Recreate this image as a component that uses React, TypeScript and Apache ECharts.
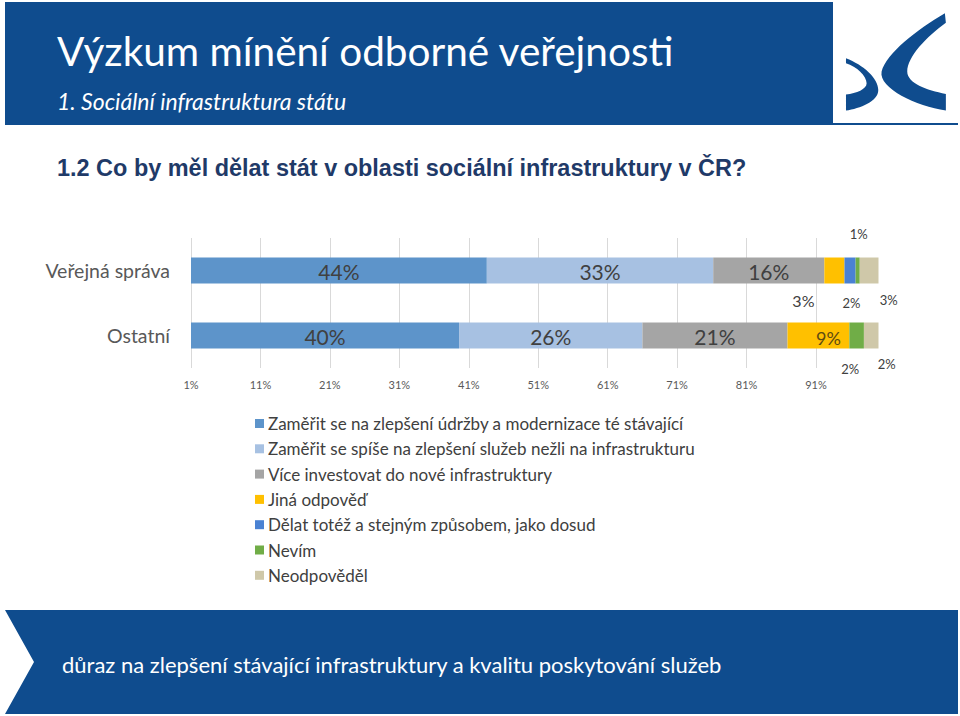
import React, { useEffect, useRef } from 'react';
import * as echarts from 'echarts';

// ---- data ----
const categories = ['Veřejná správa', 'Ostatní'];
const seriesNames = [
  'Zaměřit se na zlepšení údržby a modernizace té stávající',
  'Zaměřit se spíše na zlepšení služeb nežli na infrastrukturu',
  'Více investovat do nové infrastruktury',
  'Jiná odpověď',
  'Dělat totéž a stejným způsobem, jako dosud',
  'Nevím',
  'Neodpověděl',
];
const udrzba = [43.6, 39.6];
const sluzby = [32.6, 26.4];
const investice = [16.0, 20.9];
const jina = [2.9, 8.9];
const totez = [1.6, 0];
const nevim = [0.6, 2.1];
const neodpovedel = [2.7, 2.1];
const xTickLabels = ['1%', '11%', '21%', '31%', '41%', '51%', '61%', '71%', '81%', '91%'];
const axisMin = 1;
const axisMax = 100;
const tickStep = 10;

const titleText = 'Výzkum mínění odborné veřejnosti';
const subtitleText = '1. Sociální infrastruktura státu';
const questionText = '1.2 Co by měl dělat stát v oblasti sociální infrastruktury v ČR?';
const footerText = 'důraz na zlepšení stávající infrastruktury a kvalitu poskytování služeb';

// ---- styles ----
const colors = ['#5d94ca', '#a7c1e2', '#a5a5a5', '#ffc000', '#4a82d3', '#70ad47', '#cfc8a9'];
const brandBlue = '#0f4c8e';
const chartFont = 'Lato';

// label placement for each [series][category]: offset from segment centre
type LabelCfg = { dx: number; dy: number; size: number; color?: string };
const big: LabelCfg = { dx: 0, dy: 1, size: 21 };
const labelCfg: LabelCfg[][] = [
  [big, big],
  [big, big],
  [big, big],
  [{ dx: -31, dy: 30, size: 16 }, { dx: 10, dy: 2, size: 18, color: '#5e4b12' }],
  [{ dx: 1.5, dy: 32, size: 13 }, { dx: 0, dy: 0, size: 13 }],
  [{ dx: 1, dy: -37, size: 13 }, { dx: -6.5, dy: 33, size: 13 }],
  [{ dx: 19.5, dy: 29, size: 13 }, { dx: 15.5, dy: 28, size: 13 }],
];

const logoBig =
  'M 375 40 C 290 90 200 160 185 215 C 175 265 290 320 378 332 L 378 282 C 320 272 262 250 262 215 C 262 170 320 110 378 68 Z';
const logoSmall =
  'M 78 175 C 130 195 175 235 175 270 C 175 305 120 325 78 332 L 78 284 C 110 280 140 268 140 250 C 140 228 110 200 78 190 Z';

echarts.graphic.registerShape('logoBig', echarts.graphic.extendPath(logoBig, {}));
echarts.graphic.registerShape('logoSmall', echarts.graphic.extendPath(logoSmall, {}));

export default function App() {
  const ref = useRef<HTMLDivElement>(null);

  useEffect(() => {
    if (!ref.current) return;
    const chart = echarts.init(ref.current, undefined, { renderer: 'svg' });
    const allValues = [udrzba, sluzby, investice, jina, totez, nevim, neodpovedel];

    const series = allValues.map((vals, si) => ({
      name: seriesNames[si],
      type: 'bar',
      stack: 'total',
      barWidth: 26,
      clip: true,
      itemStyle: { color: colors[si] },
      emphasis: { disabled: true },
      data: vals.map((v, ci) => {
        const c = labelCfg[si][ci];
        return {
          value: v,
          label: {
            show: v > 0,
            position: 'inside',
            offset: [c.dx, c.dy],
            fontSize: c.size,
            fontFamily: chartFont,
            color: c.color || '#404040',
            formatter: (p: any) => Math.round(p.value) + '%',
          },
        };
      }),
    }));

    chart.setOption({
      animation: false,
      textStyle: { fontFamily: chartFont },
      grid: { left: 191, top: 238, width: 687.5, height: 130 },
      xAxis: {
        type: 'value',
        min: axisMin,
        max: axisMax,
        interval: tickStep,
        axisLine: { show: false },
        axisTick: { show: false },
        splitLine: { show: true, showMaxLine: false, lineStyle: { color: '#d9d9d9', width: 1 } },
        axisLabel: {
          showMaxLabel: false,
          fontSize: 11,
          color: '#595959',
          margin: 11,
          formatter: (v: number) => {
            const i = Math.round((v - axisMin) / tickStep);
            return v < axisMax ? xTickLabels[i] || '' : '';
          },
        },
      },
      yAxis: {
        type: 'category',
        data: categories,
        inverse: true,
        axisLine: { show: false },
        axisTick: { show: false },
        axisLabel: { fontSize: 19.5, color: '#595959', margin: 21, fontFamily: chartFont },
      },
      legend: {
        orient: 'vertical',
        left: 250,
        top: 410,
        icon: 'rect',
        itemWidth: 9,
        itemHeight: 9,
        itemGap: 8.3,
        selectedMode: false,
        data: seriesNames.map((n, i) => ({ name: n, itemStyle: { color: colors[i] } })),
        textStyle: { fontSize: 17, color: '#404040', fontFamily: chartFont, padding: [0, 0, 0, -1] },
      },
      series,
      graphic: [
        { type: 'rect', shape: { x: 5, y: 2, width: 828, height: 122 }, style: { fill: brandBlue }, silent: true },
        { type: 'rect', shape: { x: 5, y: 123, width: 953, height: 2 }, style: { fill: brandBlue }, silent: true },
        {
          type: 'text',
          x: 57,
          y: 50,
          style: { text: titleText, fill: '#ffffff', fontSize: 40.5, fontFamily: 'Lato', verticalAlign: 'middle' },
        },
        {
          type: 'text',
          x: 57,
          y: 101,
          style: {
            text: subtitleText,
            fill: '#ffffff',
            fontSize: 23,
            fontStyle: 'italic',
            fontFamily: 'Lato',
            verticalAlign: 'middle',
          },
        },
        { type: 'logoBig', x: 820, y: 0, scaleX: 1 / 3, scaleY: 1 / 3, style: { fill: brandBlue }, silent: true },
        { type: 'logoSmall', x: 820, y: 0, scaleX: 1 / 3, scaleY: 1 / 3, style: { fill: brandBlue }, silent: true },
        {
          type: 'text',
          x: 57,
          y: 168,
          scaleX: 1.02,
          style: {
            text: questionText,
            fill: '#1f3a68',
            fontSize: 23,
            fontWeight: 'bold',
            fontFamily: 'Liberation Sans',
            verticalAlign: 'middle',
          },
        },
        {
          type: 'polygon',
          shape: { points: [[5, 610], [958, 610], [958, 714], [5, 714], [34, 662]] },
          style: { fill: brandBlue },
          silent: true,
        },
        {
          type: 'text',
          x: 62,
          y: 664,
          style: { text: footerText, fill: '#ffffff', fontSize: 22, fontFamily: 'Lato', verticalAlign: 'middle' },
        },
      ],
    });

    return () => chart.dispose();
  }, []);

  return (
    <div
      ref={ref}
      style={{ position: 'absolute', left: 0, top: 0, width: 960, height: 716, background: '#ffffff' }}
    />
  );
}
